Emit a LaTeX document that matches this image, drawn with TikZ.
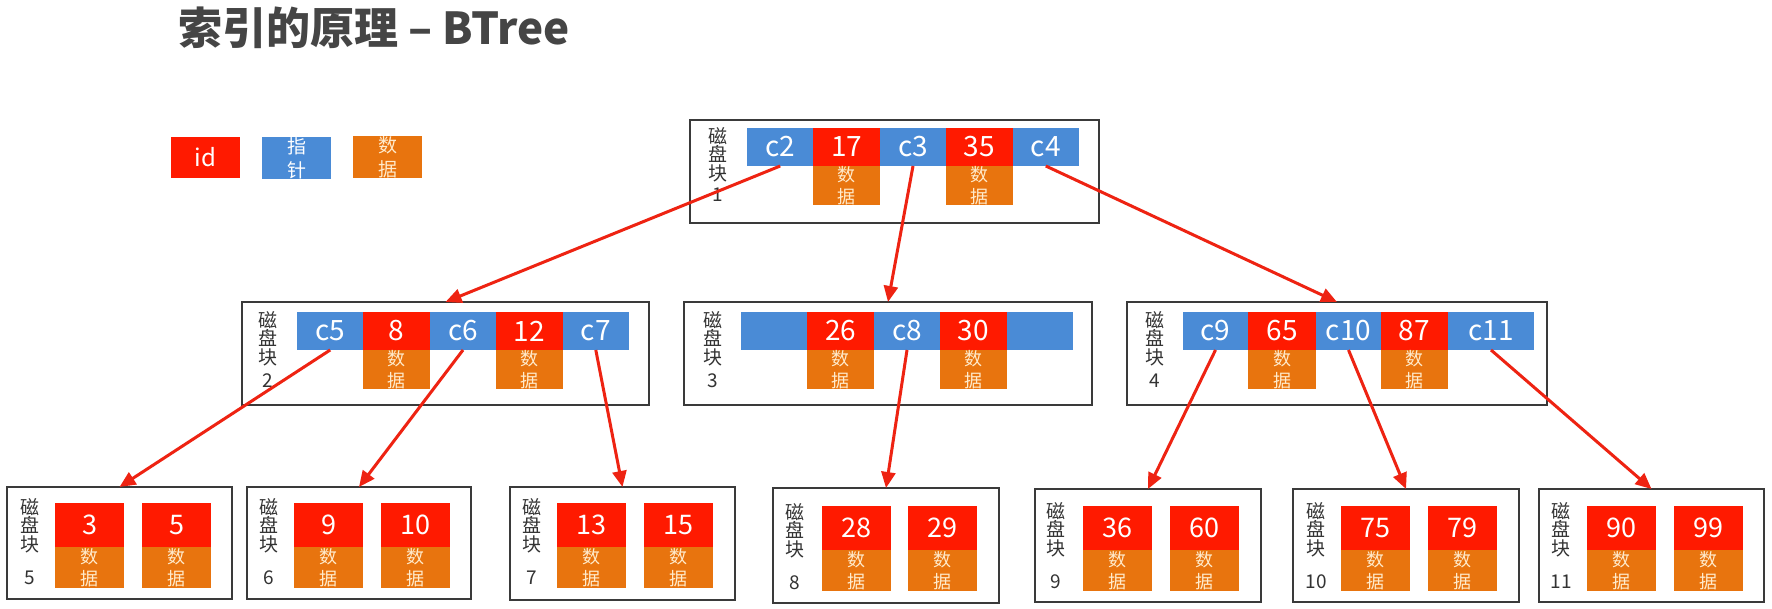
\documentclass[tikz,border=0pt]{standalone}
\usepackage{fontspec}
\setmainfont{Noto Sans CJK SC}
\usepackage{tikz}
\usetikzlibrary{positioning, arrows.meta}
\definecolor{keyred}{HTML}{FF1A00}
\definecolor{ptrblue}{HTML}{4A8BD6}
\definecolor{datorange}{HTML}{E8740E}
\definecolor{datcream}{HTML}{FFEBCC}
\definecolor{framegray}{HTML}{3A3A3A}
\definecolor{arrowred}{HTML}{EE2312}
\definecolor{titlegray}{HTML}{454545}
\definecolor{lblgray}{HTML}{333333}
\tikzstyle{blk} = [rectangle, draw=framegray, line width=1.6pt, inner sep=0pt, outer sep=0pt, anchor=north west]
\tikzstyle{ptr} = [rectangle, fill=ptrblue, text=white, minimum width=66.4pt, minimum height=38pt, inner sep=0pt, outer sep=0pt, font=\fontsize{28}{28}\selectfont]
\tikzstyle{idcell} = [ptr, fill=keyred]
\tikzstyle{dat} = [rectangle, fill=datorange, text=datcream, minimum width=66.4pt, minimum height=38pt, inner sep=0pt, outer sep=0pt, align=center, font=\fontsize{18}{22}\selectfont]
\tikzstyle{leaf} = [idcell, anchor=north west, minimum width=69pt, minimum height=44pt, font=\fontsize{27}{27}\selectfont]
\tikzstyle{leafdat} = [dat, minimum width=69pt, minimum height=41pt]
\tikzstyle{lbl} = [anchor=north, align=center, inner sep=0pt, text=lblgray, font=\fontsize{19}{18.5}\selectfont]
\tikzstyle{arrow} = [draw=arrowred, line width=3pt, -{Triangle[length=16pt,width=14pt]}]

\begin{document}
\begin{tikzpicture}[x=1pt, y=-1pt]
\fill[white] (0,0) rectangle (1772,609);
\useasboundingbox (0,0) rectangle (1772,609);

% Title and legend
\node[anchor=west, inner sep=0pt, text=titlegray, font=\fontsize{44}{44}\selectfont\bfseries] (title) at (178,28) {索引的原理 – BTree};
\node[idcell, minimum width=69pt, minimum height=41pt, font=\fontsize{24}{24}\selectfont] (lid) at (205.5,157.5) {id};
\node[ptr, minimum width=69pt, minimum height=40pt, align=center, font=\fontsize{19}{24}\selectfont] (lptr) at (296.5,158) {指\\针};
\node[dat, minimum width=69pt, minimum height=40pt, font=\fontsize{19}{24}\selectfont] (ldat) at (387.5,157) {数\\据};

% Block 1
\node[blk, minimum width=409pt, minimum height=103pt] (b1) at (690,120) {};
\node[lbl] (l1) at (718,127) {磁\\盘\\块\\[3pt]1};
\node[ptr, anchor=north west] (c2) at (747,128) {c2};
\node[idcell, right=0pt of c2] (k17) {17};
\node[ptr, right=0pt of k17] (c3) {c3};
\node[idcell, right=0pt of c3] (k35) {35};
\node[ptr, right=0pt of k35] (c4) {c4};
\node[dat, below=0pt of k17] (d17) {数\\据};
\node[dat, below=0pt of k35] (d35) {数\\据};

% Block 2
\node[blk, minimum width=407pt, minimum height=103pt] (b2) at (242,302) {};
\node[lbl] (l2) at (268,311) {磁\\盘\\块\\[5pt]2};
\node[ptr, anchor=north west] (c5) at (297,312) {c5};
\node[idcell, right=0pt of c5] (k8) {8};
\node[ptr, right=0pt of k8] (c6) {c6};
\node[idcell, right=0pt of c6] (k12) {12};
\node[ptr, right=0pt of k12] (c7) {c7};
\node[dat, below=0pt of k8] (d8) {数\\据};
\node[dat, below=0pt of k12] (d12) {数\\据};

% Block 3
\node[blk, minimum width=408pt, minimum height=103pt] (b3) at (684,302) {};
\node[lbl] (l3) at (713,311) {磁\\盘\\块\\[5pt]3};
\node[ptr, anchor=north west] (e1) at (741,312) {};
\node[idcell, right=0pt of e1] (k26) {26};
\node[ptr, right=0pt of k26] (c8) {c8};
\node[idcell, right=0pt of c8] (k30) {30};
\node[ptr, right=0pt of k30] (e2) {};
\node[dat, below=0pt of k26] (d26) {数\\据};
\node[dat, below=0pt of k30] (d30) {数\\据};

% Block 4
\node[blk, minimum width=420pt, minimum height=103pt] (b4) at (1127,302) {};
\node[lbl] (l4) at (1155,311) {磁\\盘\\块\\[5pt]4};
\node[ptr, anchor=north west, minimum width=65pt] (c9) at (1183,312) {c9};
\node[idcell, right=0pt of c9, minimum width=68pt] (k65) {65};
\node[ptr, right=0pt of k65, minimum width=65pt] (c10) {c10};
\node[idcell, right=0pt of c10, minimum width=67pt] (k87) {87};
\node[ptr, right=0pt of k87, minimum width=86pt] (c11) {c11};
\node[dat, below=0pt of k65, minimum width=68pt] (d65) {数\\据};
\node[dat, below=0pt of k87, minimum width=67pt] (d87) {数\\据};

% Leaf blocks
\node[blk, minimum width=225pt, minimum height=112pt] (b5) at (7,487) {};
\node[lbl] (l5) at (30,498) {磁\\盘\\块\\[15pt]5};
\node[leaf] (k3) at (55,503) {3};
\node[leaf] (k5) at (142,503) {5};
\node[leafdat, below=0pt of k3] (d3) {数\\据};
\node[leafdat, below=0pt of k5] (d5) {数\\据};

\node[blk, minimum width=224pt, minimum height=112pt] (b6) at (247,487) {};
\node[lbl] (l6) at (269,498) {磁\\盘\\块\\[15pt]6};
\node[leaf] (k9) at (294,503) {9};
\node[leaf] (k10) at (381,503) {10};
\node[leafdat, below=0pt of k9] (d9) {数\\据};
\node[leafdat, below=0pt of k10] (d10) {数\\据};

\node[blk, minimum width=225pt, minimum height=113pt] (b7) at (510,487) {};
\node[lbl] (l7) at (532,498) {磁\\盘\\块\\[15pt]7};
\node[leaf] (k13) at (557,503) {13};
\node[leaf] (k15) at (644,503) {15};
\node[leafdat, below=0pt of k13] (d13) {数\\据};
\node[leafdat, below=0pt of k15] (d15) {数\\据};

\node[blk, minimum width=226pt, minimum height=115pt] (b8) at (773,488) {};
\node[lbl] (l8) at (795,503) {磁\\盘\\块\\[15pt]8};
\node[leaf] (k28) at (822,506) {28};
\node[leaf] (k29) at (908,506) {29};
\node[leafdat, below=0pt of k28] (d28) {数\\据};
\node[leafdat, below=0pt of k29] (d29) {数\\据};

\node[blk, minimum width=226pt, minimum height=113pt] (b9) at (1035,489) {};
\node[lbl] (l9) at (1056,502) {磁\\盘\\块\\[15pt]9};
\node[leaf] (k36) at (1083,506) {36};
\node[leaf] (k60) at (1170,506) {60};
\node[leafdat, below=0pt of k36] (d36) {数\\据};
\node[leafdat, below=0pt of k60] (d60) {数\\据};

\node[blk, minimum width=226pt, minimum height=113pt] (b10) at (1293,489) {};
\node[lbl] (l10) at (1316,502) {磁\\盘\\块\\[15pt]10};
\node[leaf] (k75) at (1341,506) {75};
\node[leaf] (k79) at (1428,506) {79};
\node[leafdat, below=0pt of k75] (d75) {数\\据};
\node[leafdat, below=0pt of k79] (d79) {数\\据};

\node[blk, minimum width=225pt, minimum height=113pt] (b11) at (1539,489) {};
\node[lbl] (l11) at (1561,502) {磁\\盘\\块\\[15pt]11};
\node[leaf] (k90) at (1587,506) {90};
\node[leaf] (k99) at (1674,506) {99};
\node[leafdat, below=0pt of k90] (d90) {数\\据};
\node[leafdat, below=0pt of k99] (d99) {数\\据};

% Arrows
\draw[arrow] (c2.south) -- (b2.north);
\draw[arrow] (c3.south) -- (b3.north);
\draw[arrow] (c4.south) -- (b4.north);
\draw[arrow] (c5.south) -- (b5.north);
\draw[arrow] (c6.south) -- (b6.north);
\draw[arrow] (c7.south) -- (b7.north);
\draw[arrow] (c8.south) -- (b8.north);
\draw[arrow] (c9.south) -- (b9.north);
\draw[arrow] (c10.south) -- (b10.north);
\draw[arrow] (c11.south) -- (b11.north);

\end{tikzpicture}
\end{document}
